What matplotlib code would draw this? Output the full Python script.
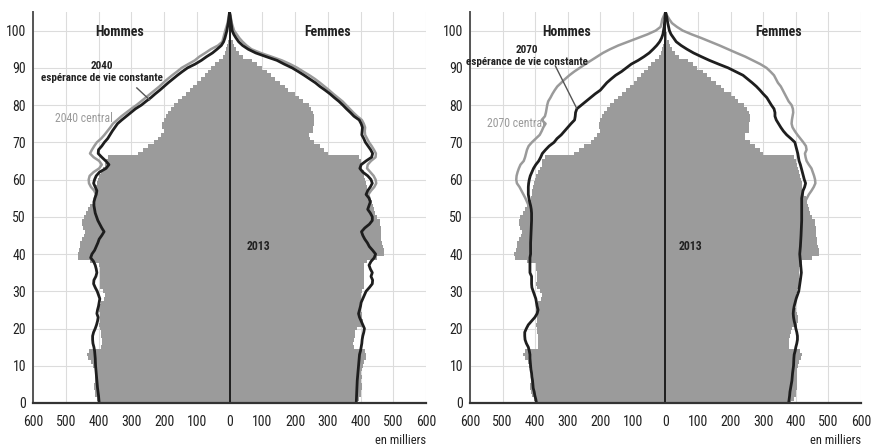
import matplotlib
matplotlib.use("Agg")
import matplotlib.pyplot as plt
from matplotlib import font_manager as fm

# --- 2013 population by age (thousands), ages 0..100 ---
ages_2013 = list(range(0, 101))
hommes_2013 = [400, 405, 410, 412, 415, 415, 412, 410, 410, 412,
               418, 422, 432, 436, 430, 392, 390, 390, 392, 393,
               395, 398, 395, 395, 395, 398, 398, 392, 382, 380,
               385, 395, 396, 395, 394, 395, 396, 398, 425, 462,
               464, 460, 456, 455, 450, 443, 441, 446, 450, 451,
               445, 438, 432, 425, 418, 412, 410, 410, 408, 405,
               402, 398, 392, 385, 380, 378, 370, 280, 265, 250,
               230, 218, 210, 200, 205, 205, 200, 195, 188, 180,
               170, 158, 146, 134, 122, 110, 98, 87, 76, 65,
               55, 45, 33, 20, 14, 10, 7, 5, 3, 2, 1]
femmes_2013 = [385, 395, 400, 402, 405, 405, 403, 405, 403, 405,
               408, 410, 416, 418, 414, 380, 378, 380, 382, 384,
               388, 405, 408, 406, 404, 400, 398, 398, 400, 402,
               405, 410, 412, 412, 410, 410, 411, 412, 420, 450,
               472, 472, 468, 466, 464, 462, 462, 462, 460, 458,
               450, 445, 440, 437, 435, 430, 426, 422, 420, 418,
               415, 412, 410, 406, 403, 400, 395, 300, 290, 275,
               258, 245, 243, 255, 256, 257, 258, 258, 256, 250,
               242, 224, 212, 200, 180, 170, 155, 140, 128, 115,
               98, 85, 68, 40, 28, 20, 14, 10, 6, 4, 2]

# --- 2040 projections ---
ages_h40 = [105, 104, 102, 100, 98, 97, 96, 95, 94, 93, 92, 91, 90, 89, 88, 87, 86, 85, 84, 83,
            82, 81, 80, 79, 78, 77, 76, 75, 74, 73, 72, 71, 70, 69, 68, 67, 66, 65, 64, 63,
            62, 61, 60, 59, 58, 57, 56, 55, 54, 53, 52, 51, 50, 49, 48, 47, 46, 45, 44, 43,
            42, 41, 40, 39, 38, 37, 36, 35, 34, 33, 32, 31, 30, 29, 28, 27, 26, 25, 24, 23,
            22, 21, 20, 19, 18, 17, 16, 15, 14, 12, 10, 8, 6, 4, 2, 0]
hommes_40_const = [0, 1, 4, 8, 14, 18, 25, 38, 52, 70, 86, 105, 128, 144, 159, 173, 187, 200, 213, 227,
                   240, 255, 269, 287, 301, 315, 329, 342, 350, 358, 365, 372, 382, 390, 400, 401, 390, 378, 368, 377,
                   397, 407, 412, 415, 410, 405, 407, 411, 414, 414, 412, 410, 406, 402, 396, 390, 383, 390, 398, 402,
                   407, 412, 420, 424, 415, 410, 407, 405, 408, 414, 415, 410, 404, 400, 396, 398, 400, 403, 405, 401,
                   403, 406, 410, 415, 418, 418, 417, 414, 412, 410, 409, 407, 405, 403, 400, 398]
ages_h40c = [105, 104, 102, 100, 98, 97, 96, 95, 94, 93, 92, 91, 90, 89, 88, 87, 86, 85, 84, 83,
             82, 81, 80, 79, 78, 77, 76, 75, 74, 73, 72, 71, 70, 69, 68, 67, 66, 65, 64, 63,
             62, 61, 60, 59, 58, 57, 56, 55]
hommes_40_central = [0, 2, 6, 13, 19, 22, 35, 57, 74, 92, 106, 126, 146, 160, 175, 189, 202, 214, 228, 242,
                     256, 270, 284, 300, 315, 330, 343, 356, 364, 373, 382, 392, 405, 413, 420, 426, 415, 398, 390, 398,
                     415, 427, 430, 429, 423, 413, 408, 411]

ages_f40 = [105, 104, 102, 100, 99, 98, 97, 96, 95, 94, 93, 92, 91, 90, 89, 88, 87, 86, 85, 84,
            83, 82, 81, 80, 79, 78, 77, 76, 75, 74, 73, 72, 71, 70, 69, 68, 67, 66, 65, 64,
            63, 62, 61, 60, 59, 58, 57, 56, 55, 54, 53, 52, 51, 50, 49, 48, 47, 46, 45, 44,
            43, 42, 41, 40, 39, 38, 37, 36, 35, 34, 33, 32, 31, 30, 29, 28, 27, 26, 25, 24,
            23, 22, 21, 20, 19, 18, 17, 16, 15, 14, 13, 12, 10, 8, 6, 4, 2, 0]
femmes_40_const = [0, 2, 5, 8, 13, 20, 28, 40, 57, 80, 112, 145, 167, 191, 210, 228, 245, 262, 276, 292,
                   307, 320, 334, 346, 357, 369, 380, 396, 402, 406, 405, 404, 410, 415, 423, 431, 437, 434, 417, 402,
                   398, 407, 422, 432, 436, 430, 422, 417, 426, 430, 426, 422, 430, 436, 436, 427, 413, 403, 407, 413,
                   421, 427, 437, 446, 442, 432, 426, 430, 436, 432, 437, 436, 427, 417, 412, 407, 402, 400, 397, 394,
                   397, 402, 407, 412, 410, 407, 405, 404, 402, 400, 397, 396, 394, 392, 390, 389, 388, 387]
ages_f40c = [105, 104, 102, 100, 99, 98, 97, 96, 95, 94, 93, 92, 91, 90, 89, 88, 87, 86, 85, 84,
             83, 82, 81, 80, 79, 78, 77, 76, 75, 74, 73, 72, 71, 70, 69, 68, 67, 66, 65, 64,
             63, 62, 61, 60, 59, 58, 57, 56, 55, 54]
femmes_40_central = [0, 3, 7, 14, 22, 30, 40, 52, 67, 95, 128, 160, 185, 207, 225, 244, 261, 276, 290, 304,
                     317, 331, 345, 356, 367, 378, 390, 404, 410, 414, 413, 414, 420, 426, 434, 441, 447, 446, 432, 422,
                     420, 430, 440, 446, 448, 442, 432, 424, 427, 430]

# --- 2070 projections ---
ages_h70 = [105, 103, 101, 100, 99, 98, 97, 96, 95, 94, 93, 92, 91, 90, 89, 88, 87, 86, 85, 84,
            83, 82, 81, 80, 79, 78, 77, 76, 75, 74, 73, 72, 71, 70, 69, 68, 67, 66, 65, 64,
            63, 62, 61, 60, 59, 58, 57, 56, 55, 54, 53, 52, 51, 50, 49, 47, 45, 43, 41, 40,
            39, 37, 35, 34, 32, 31, 30, 29, 28, 27, 26, 25, 24, 23, 22, 21, 20, 19, 18, 17,
            16, 15, 14, 13, 12, 11, 10, 9, 8, 7, 6, 5, 4, 3, 2, 1, 0]
hommes_70_const = [0, 2, 4, 6, 8, 12, 18, 27, 38, 50, 66, 84, 105, 120, 135, 153, 167, 180, 190, 200,
                   216, 230, 244, 258, 272, 276, 277, 279, 290, 300, 310, 320, 333, 342, 357, 368, 378, 383, 389, 398,
                   405, 410, 415, 418, 420, 421, 421, 421, 419, 417, 414, 412, 411, 411, 411, 412, 413, 414, 414, 414,
                   416, 416, 416, 411, 411, 410, 406, 402, 398, 396, 394, 391, 394, 401, 411, 421, 427, 432, 432, 431,
                   427, 421, 418, 416, 416, 415, 414, 413, 411, 410, 408, 407, 406, 403, 401, 398, 396]
ages_h70c = [105, 104, 103, 102, 101, 100, 99, 98, 97, 96, 95, 94, 93, 92, 91, 90, 89, 88, 87, 86,
             85, 84, 83, 82, 81, 80, 79, 78, 77, 76, 75, 74, 73, 72, 71, 70, 69, 68, 67, 66,
             65, 64, 63, 62, 61, 60, 59, 58, 57, 56, 55, 54, 53, 52, 51]
hommes_70_central = [0, 5, 10, 12, 15, 30, 55, 85, 115, 145, 170, 192, 210, 228, 246, 263, 280, 295, 308, 320,
                     332, 340, 347, 353, 360, 363, 365, 367, 370, 380, 368, 375, 380, 386, 398, 410, 420, 425, 428, 431,
                     435, 445, 450, 454, 457, 458, 456, 448, 442, 436, 430, 425, 420, 415, 412]

ages_f70 = [105, 104, 102, 100, 99, 98, 97, 96, 95, 94, 93, 92, 91, 90, 89, 88, 87, 86, 85, 84,
            83, 82, 81, 80, 79, 78, 77, 76, 75, 74, 73, 72, 71, 70, 69, 68, 67, 66, 65, 64,
            63, 62, 61, 60, 59, 58, 57, 56, 55, 53, 50, 49, 47, 45, 42, 40, 38, 35, 33, 30,
            29, 28, 27, 26, 25, 24, 23, 22, 21, 20, 19, 18, 17, 16, 15, 14, 13, 12, 10, 8,
            6, 4, 3, 2, 0]
femmes_70_const = [0, 3, 7, 12, 17, 25, 33, 48, 66, 86, 110, 135, 163, 192, 215, 238, 252, 266, 279, 290,
                   300, 311, 318, 325, 333, 336, 336, 340, 347, 354, 362, 372, 385, 397, 400, 403, 406, 408, 410, 414,
                   417, 420, 423, 426, 430, 427, 422, 420, 418, 418, 418, 418, 417, 416, 414, 412, 414, 417, 414, 409,
                   405, 401, 398, 395, 393, 392, 393, 395, 398, 400, 403, 405, 405, 403, 400, 398, 395, 394, 393, 390,
                   388, 384, 382, 381, 378]
ages_f70c = [105, 104, 103, 102, 101, 100, 99, 98, 97, 96, 95, 94, 93, 92, 91, 90, 89, 88, 87, 86,
             85, 84, 83, 82, 81, 80, 79, 78, 77, 76, 75, 74, 73, 72, 71, 70, 69, 68, 67, 66,
             65, 64, 63, 62, 61, 60, 59, 58, 57, 56, 55, 54, 53, 52]
femmes_70_central = [0, 5, 12, 20, 35, 53, 80, 110, 138, 166, 192, 218, 245, 268, 291, 310, 322, 333, 339, 345,
                     354, 360, 366, 372, 378, 387, 391, 392, 390, 388, 387, 390, 397, 405, 414, 423, 431, 433, 428, 430,
                     433, 440, 448, 452, 456, 459, 460, 455, 448, 440, 434, 428, 423, 420]

x_ticks = [-600, -500, -400, -300, -200, -100, 0, 100, 200, 300, 400, 500, 600]
y_ticks = list(range(0, 101, 10))

# narrow sans font, like the original (Arial Narrow style)
installed = {f.name for f in fm.fontManager.ttflist}
font = 'Liberation Sans'
for name in ['Roboto Condensed', 'Archivo Narrow', 'PT Sans Narrow', 'Open Sans Condensed',
             'Fira Sans Condensed', 'IBM Plex Sans Condensed']:
    if name in installed:
        font = name
        break
plt.rcParams['font.family'] = [font, 'DejaVu Sans']

BAR = '#9b9b9b'
DARK = '#1e1e1e'
LIGHT = '#9a9a9a'

fig = plt.figure(figsize=(8.71, 4.45), dpi=100)


def pyramid(ax, year, h_const, ages_hc, f_const, ages_fc, h_cent, ages_hx, f_cent, ages_fx,
            homme_xy, femme_xy, title_xy, lead, central_xy, label_2013):
    ax.barh(ages_2013, [-v for v in hommes_2013], height=1.0, color=BAR, lw=0, zorder=2)
    ax.barh(ages_2013, femmes_2013, height=1.0, color=BAR, lw=0, zorder=2)
    ax.plot([-v for v in h_cent], ages_hx, color=LIGHT, lw=1.8, zorder=3)
    ax.plot(f_cent, ages_fx, color=LIGHT, lw=1.8, zorder=3)
    ax.plot([-v for v in h_const], ages_hc, color=DARK, lw=2.0, zorder=4)
    ax.plot(f_const, ages_fc, color=DARK, lw=2.0, zorder=4)
    ax.axvline(0, color=DARK, lw=1.4, zorder=5)

    ax.set_xlim(-600, 600)
    ax.set_ylim(0, 105)
    ax.set_xticks(x_ticks)
    ax.set_xticklabels([str(abs(t)) for t in x_ticks])
    ax.set_yticks(y_ticks)
    ax.tick_params(axis='both', length=0, labelsize=10, colors='#222222')
    ax.tick_params(axis='x', pad=9)
    ax.tick_params(axis='y', pad=5)
    ax.grid(True, color='#dcdcdc', lw=0.8, zorder=0)
    ax.set_axisbelow(True)
    for s in ['top', 'right']:
        ax.spines[s].set_visible(False)
    ax.spines['left'].set_color('#555555')
    ax.spines['left'].set_linewidth(1.4)
    ax.spines['bottom'].set_color('#333333')
    ax.spines['bottom'].set_linewidth(1.6)
    ax.spines['bottom'].set_zorder(6)

    ax.text(homme_xy[0], homme_xy[1], 'Hommes', ha='center', va='center',
            fontsize=10, fontweight='bold', color='#222222', zorder=7)
    ax.text(femme_xy[0], femme_xy[1], 'Femmes', ha='center', va='center',
            fontsize=10, fontweight='bold', color='#222222', zorder=7)
    ax.text(title_xy[0], title_xy[1], year + '\nespérance de vie constante', ha='center',
            va='center', fontsize=8, fontweight='bold', color='#222222',
            linespacing=1.2, zorder=7)
    ax.plot(lead[0], lead[1], color='#555555', lw=1.0, zorder=6)
    ax.text(central_xy[0], central_xy[1], year + ' central', ha='center', va='center',
            fontsize=8.5, color=LIGHT, zorder=7)
    ax.text(label_2013[0], label_2013[1], '2013', ha='center', va='center',
            fontsize=8.5, fontweight='bold', color='#222222', zorder=7)
    ax.text(1.0, -0.095, 'en milliers', transform=ax.transAxes, ha='right', va='center',
            fontsize=9, color='#222222')


ax1 = fig.add_axes([0.0379, 0.0944, 0.4512, 0.8787])
pyramid(ax1, '2040', hommes_40_const, ages_h40, femmes_40_const, ages_f40,
        hommes_40_central, ages_h40c, femmes_40_central, ages_f40c,
        (-337, 99.6), (300, 99.6), (-390, 88.9), ([-283, -244], [84.6, 81.4]),
        (-446, 76.3), (88, 42))

ax2 = fig.add_axes([0.5396, 0.0944, 0.4489, 0.8787])
pyramid(ax2, '2070', hommes_70_const, ages_h70, femmes_70_const, ages_f70,
        hommes_70_central, ages_h70c, femmes_70_central, ages_f70c,
        (-302, 99.6), (347, 99.6), (-425, 93.1), ([-338, -273], [90.5, 79.2]),
        (-460, 75.0), (76, 42))

fig.savefig('out.png', dpi=100)
